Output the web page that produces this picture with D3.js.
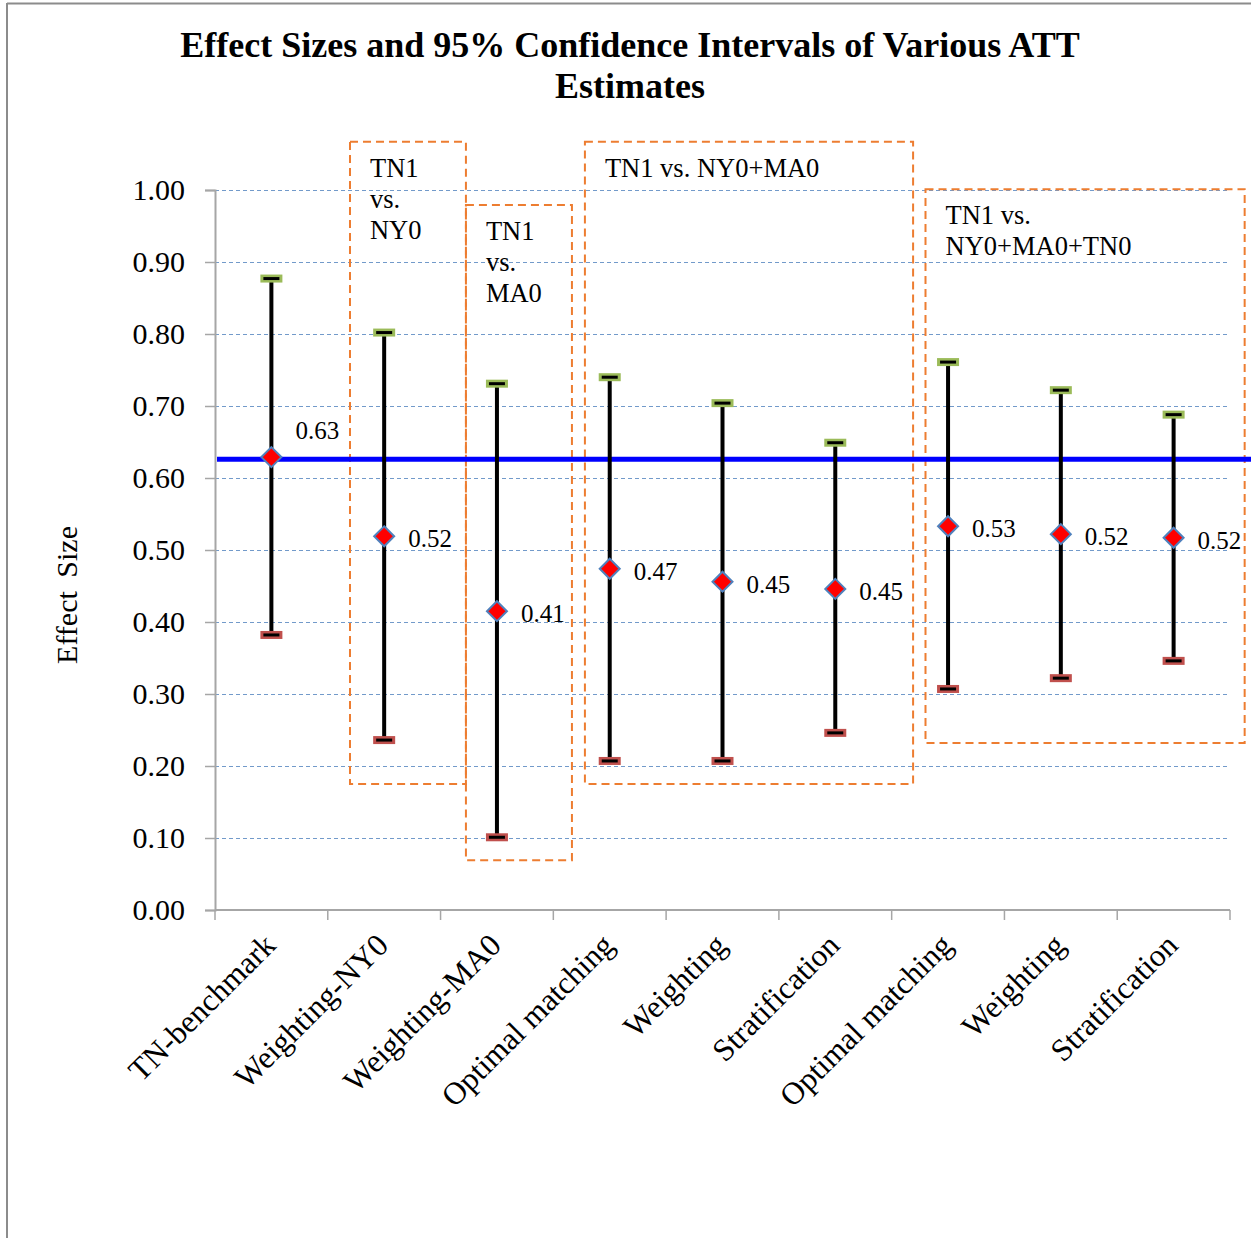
<!DOCTYPE html>
<html>
<head>
<meta charset="utf-8">
<script src="https://cdn.jsdelivr.net/npm/d3@7"></script>
<style>
html,body{margin:0;padding:0;background:#fff;}
svg{display:block;}
text{font-family:"Liberation Serif","Times New Roman",serif;fill:#000;}
</style>
</head>
<body>
<script>
// ---- data ----
const categories = ["TN-benchmark","Weighting-NY0","Weighting-MA0","Optimal matching","Weighting","Stratification","Optimal matching","Weighting","Stratification"];
const estimates = [0.629, 0.519, 0.415, 0.474, 0.456, 0.446, 0.533, 0.522, 0.517];
const upperCI  = [0.877, 0.802, 0.731, 0.740, 0.704, 0.649, 0.761, 0.722, 0.688];
const lowerCI  = [0.382, 0.236, 0.101, 0.207, 0.207, 0.246, 0.307, 0.322, 0.346];
const pointLabels = ["0.63","0.52","0.41","0.47","0.45","0.45","0.53","0.52","0.52"];
const benchmark = 0.626;
const yTicks = [0,0.1,0.2,0.3,0.4,0.5,0.6,0.7,0.8,0.9,1.0];
// group annotation boxes: x in category units, y in effect-size units
const groupLines = [["TN1","vs.","NY0"],["TN1","vs.","MA0"],["TN1 vs. NY0+MA0"],["TN1 vs.","NY0+MA0+TN0"]];
const groupX0 = [1.197, 2.225, 3.28, 6.30];
const groupX1 = [2.225, 3.165, 6.19, 9.13];
const groupYTop = [1.067, 0.979, 1.067, 1.001];
const groupYBot = [0.175, 0.069, 0.175, 0.232];
const titleLines = ["Effect Sizes and 95% Confidence Intervals of Various ATT","Estimates"];

// ---- layout ----
const W = 1251, H = 1238;
const pLeft = 215, pRight = 1230, pTop = 190, pBottom = 910;

const svg = d3.select("body").append("svg").attr("width", W).attr("height", H);

// frame
svg.append("line").attr("x1",7).attr("x2",W).attr("y1",3.5).attr("y2",3.5).attr("stroke","#8c8c8c").attr("stroke-width",2);
svg.append("line").attr("x1",7).attr("x2",7).attr("y1",3).attr("y2",H).attr("stroke","#8c8c8c").attr("stroke-width",2);

const x = d3.scaleBand().domain(d3.range(categories.length)).range([pLeft, pRight]).padding(0);
const xc = i => x(i) + x.bandwidth()/2;
const xu = d3.scaleLinear().domain([0, categories.length]).range([pLeft, pRight]);
const y = d3.scaleLinear().domain([0,1]).range([pBottom, pTop]);

// title
svg.append("g").selectAll("text").data(titleLines).join("text")
  .attr("x", 630).attr("y", (d,i)=>57 + i*41)
  .attr("text-anchor","middle").attr("font-size",36).attr("font-weight","bold")
  .text(d=>d);

// gridlines
svg.append("g").selectAll("line").data(yTicks.filter(d=>d>0)).join("line")
  .attr("x1", pLeft).attr("x2", pRight)
  .attr("y1", d=>Math.round(y(d))+0.5).attr("y2", d=>Math.round(y(d))+0.5)
  .attr("stroke","#4f81bd").attr("stroke-opacity",0.8).attr("stroke-width",1).attr("stroke-dasharray","4,3");

// y axis
const yAxis = d3.axisLeft(y).tickValues(yTicks).tickFormat(d3.format(".2f")).tickSize(10).tickPadding(20);
const gy = svg.append("g").attr("transform",`translate(${pLeft},0)`).call(yAxis);
gy.select(".domain").attr("stroke","#a6a6a6").attr("stroke-width",2);
gy.selectAll(".tick line").attr("stroke","#a6a6a6").attr("stroke-width",1.5);
gy.selectAll(".tick text").attr("font-size",30).attr("fill","#000");

// y title
svg.append("text").attr("transform","translate(77,595) rotate(-90)")
  .attr("text-anchor","middle").attr("font-size",30).style("word-spacing","6px").text("Effect Size");

// x axis
const gx = svg.append("g").attr("transform",`translate(0,${pBottom})`);
gx.append("line").attr("x1",pLeft).attr("x2",pRight).attr("y1",0).attr("y2",0).attr("stroke","#a6a6a6").attr("stroke-width",2);
gx.selectAll("line.tk").data(d3.range(categories.length+1)).join("line").attr("class","tk")
  .attr("x1",d=>xu(d)).attr("x2",d=>xu(d)).attr("y1",0).attr("y2",10)
  .attr("stroke","#a6a6a6").attr("stroke-width",1.5);
gx.selectAll("text").data(categories).join("text")
  .attr("transform",(d,i)=>`translate(${xc(i)+6},${37}) rotate(-45)`)
  .attr("text-anchor","end").attr("font-size",31.5).text(d=>d);

// group boxes
const gb = svg.append("g");
groupLines.forEach((lines,k)=>{
  const bx0 = xu(groupX0[k]), bx1 = xu(groupX1[k]);
  const by0 = y(groupYTop[k]), by1 = y(groupYBot[k]);
  gb.append("rect").attr("x",bx0).attr("y",by0).attr("width",bx1-bx0).attr("height",by1-by0)
    .attr("fill","none").attr("stroke","#ed7d31").attr("stroke-width",2).attr("stroke-dasharray","8,5");
  gb.selectAll(null).data(lines).join("text")
    .attr("x", bx0+20).attr("y",(d,i)=>by0+35+i*31)
    .attr("font-size",26.5).text(d=>d);
});

// benchmark line
svg.append("line").attr("x1",217).attr("x2",W).attr("y1",y(benchmark)).attr("y2",y(benchmark))
  .attr("stroke","#0000ff").attr("stroke-width",5);

// CI lines
const gci = svg.append("g");
gci.selectAll("line.ci").data(categories).join("line").attr("class","ci")
  .attr("x1",(d,i)=>xc(i)).attr("x2",(d,i)=>xc(i))
  .attr("y1",(d,i)=>y(upperCI[i])).attr("y2",(d,i)=>y(lowerCI[i]))
  .attr("stroke","#000").attr("stroke-width",4);

// caps
function caps(vals, fill){
  const g = svg.append("g");
  g.selectAll("rect").data(vals).join("rect")
    .attr("x",(d,i)=>xc(i)-11).attr("y",d=>y(d)-4).attr("width",22).attr("height",8)
    .attr("fill",fill);
  g.selectAll("line").data(vals).join("line")
    .attr("x1",(d,i)=>xc(i)-8).attr("x2",(d,i)=>xc(i)+8)
    .attr("y1",d=>y(d)).attr("y2",d=>y(d)).attr("stroke","#000").attr("stroke-width",3);
}
caps(upperCI, "#9bbb59");
caps(lowerCI, "#c0504d");

// diamonds
svg.append("g").selectAll("path").data(estimates).join("path")
  .attr("d",(d,i)=>{const cx=xc(i), cy=y(d), r=10; return `M${cx},${cy-r}L${cx+r},${cy}L${cx},${cy+r}L${cx-r},${cy}Z`;})
  .attr("fill","#ff0000").attr("stroke","#4f81bd").attr("stroke-width",2);

// point labels
svg.append("g").selectAll("text").data(estimates).join("text")
  .attr("x",(d,i)=>xc(i)+24)
  .attr("y",(d,i)=> i===0 ? y(d)-18 : y(d)+11)
  .attr("font-size",25).text((d,i)=>pointLabels[i]);
</script>
</body>
</html>
